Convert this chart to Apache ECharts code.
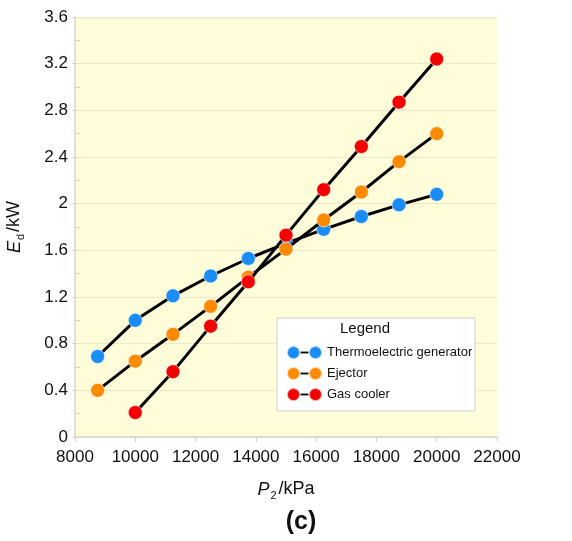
<!DOCTYPE html>
<html>
<head>
<meta charset="utf-8">
<script src="https://cdn.jsdelivr.net/npm/echarts@6/dist/echarts.min.js"></script>
<style>
  html, body { margin: 0; padding: 0; background: #fff; }
  #chart { width: 572px; height: 541px; }
</style>
</head>
<body>
<div id="chart"></div>
<script>
// Discharge pressure P2 (kPa)
var pressures = [8750, 10000, 11250, 12500, 13750, 15000, 16250, 17500, 18750, 20000];

// Exergy destruction Ed (kW) per component
var tegValues     = [0.69, 1.00, 1.21, 1.38, 1.53, 1.66, 1.78, 1.89, 1.99, 2.08];
var ejectorValues = [0.40, 0.65, 0.88, 1.12, 1.37, 1.61, 1.86, 2.10, 2.36, 2.60];
var coolerValues  = [null, 0.21, 0.56, 0.95, 1.33, 1.73, 2.12, 2.49, 2.87, 3.24];

var seriesNames = ['Thermoelectric generator', 'Ejector', 'Gas cooler'];
var seriesColors = ['#1a8cf5', '#ff8a00', '#f50000'];
var xTicks = { min: 8000, max: 22000, step: 2000 };
var yTicks = { min: 0, max: 3.6, step: 0.4 };

function pairs(values) {
  return pressures.map(function (p, i) { return [p, values[i]]; })
                  .filter(function (d) { return d[1] !== null; });
}

var allValues = [tegValues, ejectorValues, coolerValues];
var FONT = '"Liberation Sans", Arial, Helvetica, sans-serif';

var chart = echarts.init(document.getElementById('chart'), null, { renderer: 'canvas' });

// Legend marker: two dots, with a short black bar (second legend layer) between them
var dotsIcon = 'path://M0,6.5a6.5,6.5 0 1,0 13,0a6.5,6.5 0 1,0 -13,0z M22,6.5a6.5,6.5 0 1,0 13,0a6.5,6.5 0 1,0 -13,0z';
var barIcon = 'path://M0,0M10,5h15v3h-15zM35,13';

var legendBase = {
  orient: 'vertical',
  left: 286, top: 345,
  padding: 0,
  itemWidth: 35, itemHeight: 13, itemGap: 6,
  selectedMode: false,
  textStyle: { fontSize: 13, fontFamily: FONT, color: '#111' },
  data: seriesNames
};

var series = allValues.map(function (vals, i) {
  return {
    name: seriesNames[i],
    type: 'line',
    data: pairs(vals),
    symbol: 'circle',
    symbolSize: 14,
    z: 2 + i,
    itemStyle: { color: seriesColors[i], borderColor: 'rgba(255,255,255,0.6)', borderWidth: 1 },
    lineStyle: { color: '#000', width: 3 },
    emphasis: { disabled: true },
    animation: false
  };
});

var nameRich = {
  i: { fontStyle: 'italic', fontSize: 18, fontFamily: FONT, color: '#111' },
  sub: { fontSize: 11, fontFamily: FONT, color: '#111', padding: [12, 2, 0, 1] },
  n: { fontSize: 18, fontFamily: FONT, color: '#111' }
};

chart.setOption({
  animation: false,
  grid: {
    left: 75, right: 75, top: 17, bottom: 104,
    outerBoundsMode: 'none',
    show: true, backgroundColor: '#fffdd9', borderWidth: 0
  },
  xAxis: {
    type: 'value',
    min: xTicks.min, max: xTicks.max, interval: xTicks.step,
    axisLine: { show: true, lineStyle: { color: '#d4d4d4', width: 1.5 } },
    axisTick: { show: true, length: 5, lineStyle: { color: '#d4d4d4' } },
    splitLine: { show: false },
    axisLabel: {
      color: '#111', fontSize: 17, fontFamily: FONT, margin: 12,
      formatter: function (v) { return String(v); }
    },
    name: '{i|P}{sub|2}{n|/kPa}',
    nameLocation: 'middle',
    nameGap: 41,
    nameTextStyle: { rich: nameRich }
  },
  yAxis: {
    type: 'value',
    min: yTicks.min, max: yTicks.max, interval: yTicks.step,
    axisLine: { show: true, lineStyle: { color: '#d4d4d4', width: 1.5 } },
    axisTick: { show: true, length: 3, lineStyle: { color: '#d4d4d4' } },
    minorTick: { show: true, splitNumber: 2, length: -5, lineStyle: { color: '#d4d4d4' } },
    splitLine: { show: true, lineStyle: { color: '#ebe8c6', width: 1 } },
    axisLabel: {
      color: '#111', fontSize: 17, fontFamily: FONT, margin: 7,
      formatter: function (v) { return String(+v.toFixed(1)); }
    },
    name: '{i|E}{sub|d}{n|/kW}',
    nameLocation: 'middle',
    nameRotate: 90,
    nameGap: 49,
    nameTextStyle: { rich: nameRich }
  },
  title: {
    text: '(c)',
    left: 301,
    textAlign: 'center',
    top: 510,
    padding: 0,
    textStyle: { fontSize: 25, fontWeight: 'bold', fontFamily: FONT, color: '#111' }
  },
  graphic: [
    {
      type: 'rect',
      shape: { x: 277, y: 318, width: 198, height: 93 },
      style: { fill: '#ffffff', stroke: '#d0d0d0', lineWidth: 1 },
      z: 10
    },
    {
      type: 'text',
      x: 365, y: 329,
      style: { text: 'Legend', fontSize: 15, fontFamily: FONT, fill: '#111', align: 'center', verticalAlign: 'middle' },
      z: 11
    }
  ],
  legend: [
    Object.assign({}, legendBase, { icon: dotsIcon, z: 12 }),
    Object.assign({}, legendBase, {
      icon: barIcon,
      itemStyle: { color: '#000' },
      formatter: function () { return ' '; },
      z: 11
    })
  ],
  series: series
});
</script>
</body>
</html>
